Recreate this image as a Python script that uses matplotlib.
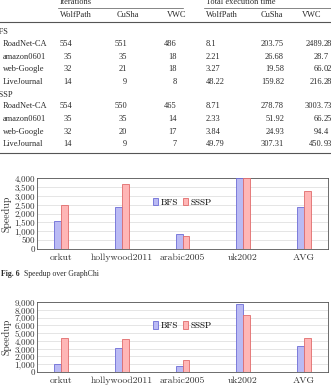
import matplotlib.pyplot as plt
from matplotlib.ticker import FuncFormatter, MultipleLocator

W, H = 331, 388

# table data
rows = ['RoadNet-CA', 'amazon0601', 'web-Google', 'LiveJournal']
bfs_iter_wolf = [554, 35, 32, 14]
bfs_iter_cusha = [551, 35, 21, 9]
bfs_iter_vwc = [486, 18, 18, 8]
bfs_time_wolf = ['8.1', '2.21', '3.27', '48.22']
bfs_time_cusha = ['203.75', '26.68', '19.58', '159.82']
bfs_time_vwc = ['2489.28', '28.7', '66.02', '216.28']
sssp_iter_wolf = [554, 35, 32, 14]
sssp_iter_cusha = [550, 35, 20, 9]
sssp_iter_vwc = [465, 14, 17, 7]
sssp_time_wolf = ['8.71', '2.33', '3.84', '49.79']
sssp_time_cusha = ['278.78', '51.92', '24.93', '307.31']
sssp_time_vwc = ['3003.73', '66.25', '94.4', '450.93']

# chart data
graphs = ['orkut', 'hollywood2011', 'arabic2005', 'uk2002', 'AVG']
fig6_bfs = [1550, 2340, 830, 4000, 2390]
fig6_sssp = [2480, 3640, 720, 4000, 3250]
fig7_bfs = [1080, 3080, 800, 8720, 3400]
fig7_sssp = [4400, 4280, 1480, 7280, 4400]

fig = plt.figure(figsize=(W / 100, H / 100), dpi=100)

TXT = '#2a2a2a'
LINE = '#555555'


def px(x, y):
    return x / W, 1 - y / H


def put(x, y, s, ha='left', size=6, **kw):
    fx, fy = px(x, y)
    fig.text(fx, fy, s, ha=ha, va='center', fontsize=size,
             family='Liberation Serif', color=TXT, **kw)


def hline(x0, x1, y, lw=0.5):
    fig.add_artist(plt.Line2D([x0 / W, x1 / W], [1 - y / H, 1 - y / H],
                              color=LINE, lw=lw))


def dec(x, y, s):
    # decimal aligned value
    a, b = s.split('.')
    put(x, y, a + '.', ha='right')
    put(x, y, b, ha='left')


# table header
put(60, 2.5, 'Iterations')
put(206, 2.5, 'Total execution time')
hline(58, 183, 8)
hline(204, 331, 8)
put(60, 15, 'WolfPath')
put(117, 15, 'CuSha')
put(167, 15, 'VWC')
put(206, 15, 'WolfPath')
put(261, 15, 'CuSha')
put(302, 15, 'VWC')
hline(0, 331, 22, lw=0.8)


def block(y0, name, nx, it1, it2, it3, t1, t2, t3):
    put(nx, y0, name, ha='right')
    for i, r in enumerate(rows):
        y = y0 + 11.5 + i * 12.6
        put(3, y, r)
        put(72, y, str(it1[i]), ha='right')
        put(127, y, str(it2[i]), ha='right')
        put(177, y, str(it3[i]), ha='right')
        put(206, y, t1[i])
        put(284, y, t2[i], ha='right')
        dec(324, y, t3[i])


block(32.5, 'BFS', 9, bfs_iter_wolf, bfs_iter_cusha, bfs_iter_vwc,
      bfs_time_wolf, bfs_time_cusha, bfs_time_vwc)
block(95, 'SSSP', 13, sssp_iter_wolf, sssp_iter_cusha, sssp_iter_vwc,
      sssp_time_wolf, sssp_time_cusha, sssp_time_vwc)
hline(0, 331, 153, lw=0.8)

# caption
put(20, 274, 'Fig. 6', ha='right', size=5.6, weight='bold')
put(24, 274, 'Speedup over GraphChi', size=5.6)

BFS_FILL, BFS_EDGE = '#babaf4', '#6c6cd6'
SSSP_FILL, SSSP_EDGE = '#ffb6b6', '#e06c6c'
CM = 'cmr10'


def chart(top, bottom, bfs, sssp, ymax, step):
    l, b = px(37, bottom)
    ax = fig.add_axes([l, b, (328 - 37) / W, (bottom - top) / H])
    x = range(len(graphs))
    w = 0.115
    ax.bar([i - w / 2 for i in x], bfs, w, color=BFS_FILL, edgecolor=BFS_EDGE,
           lw=0.6, label='BFS', zorder=3)
    ax.bar([i + w / 2 for i in x], sssp, w, color=SSSP_FILL, edgecolor=SSSP_EDGE,
           lw=0.6, label='SSSP', zorder=3)
    ax.set_xlim(-0.4, 4.4)
    ax.set_ylim(0, ymax)
    ax.yaxis.set_major_locator(MultipleLocator(step))
    ax.yaxis.set_major_formatter(FuncFormatter(lambda v, p: f'{v:,.0f}'))
    ax.set_xticks(list(x))
    ax.set_xticklabels(graphs)
    ax.tick_params(length=0, colors='#333333')
    ax.tick_params(axis='x', labelsize=7, pad=3)
    ax.tick_params(axis='y', labelsize=6.5, pad=1.5)
    for t in ax.get_xticklabels() + ax.get_yticklabels():
        t.set_family(CM)
    ax.grid(axis='y', color='#dadada', lw=0.5, zorder=0)
    for s in ax.spines.values():
        s.set_color('#555555')
        s.set_linewidth(0.6)
    ax.set_ylabel('Speedup', family=CM, fontsize=7.2, labelpad=2, color='#333333')
    ax.legend(loc='center', bbox_to_anchor=(0.5, 0.66), ncol=2, frameon=False,
              prop={'family': CM, 'size': 6.5}, handlelength=0.5, handleheight=0.9,
              handletextpad=0.3, columnspacing=0.6, borderpad=0.1)
    return ax


chart(178, 249, fig6_bfs, fig6_sssp, 4000, 500)
chart(302, 372, fig7_bfs, fig7_sssp, 9000, 1000)

fig.savefig('out.png', dpi=100)
